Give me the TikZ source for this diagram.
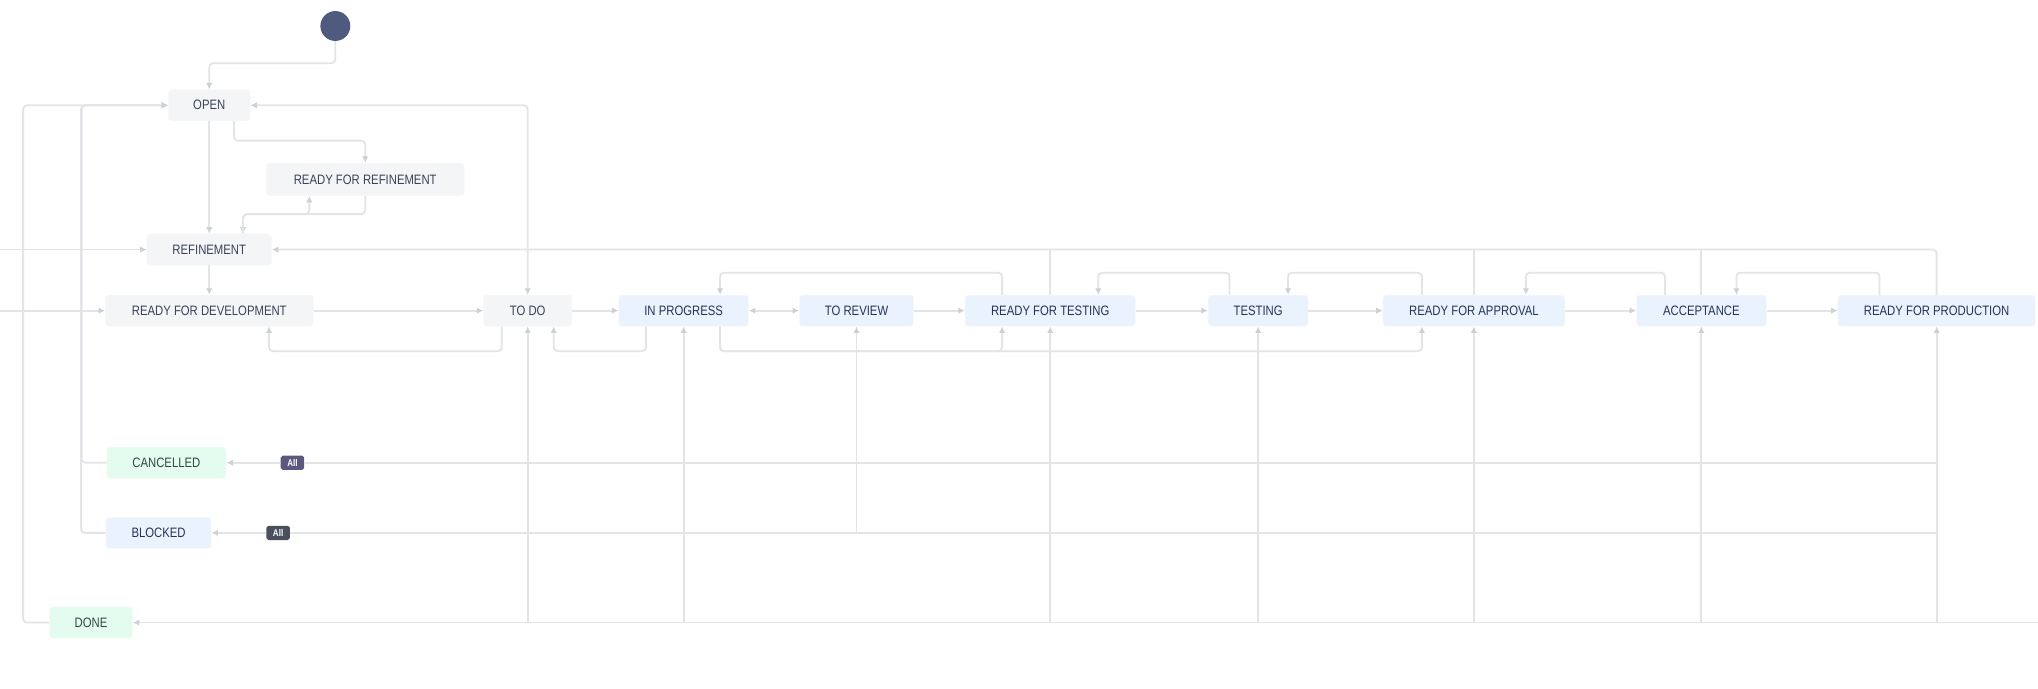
\documentclass[tikz,border=0pt]{standalone}
\usepackage{fontspec}
\setmainfont{Liberation Sans}[FakeStretch=0.83]
\usepackage{tikz}
\usetikzlibrary{arrows.meta,positioning,calc}
\definecolor{edgegrey}{HTML}{E3E4E8}
\definecolor{tipgrey}{HTML}{CDD0D6}
\definecolor{todofill}{HTML}{F4F5F7}
\definecolor{progfill}{HTML}{EAF2FE}
\definecolor{donefill}{HTML}{E3FCEF}
\definecolor{todotext}{HTML}{394257}
\definecolor{progtext}{HTML}{253456}
\definecolor{donetext}{HTML}{2F4842}
\definecolor{startblue}{HTML}{4E5B7E}
\definecolor{tagpurple}{HTML}{5B5880}
\definecolor{taggrey}{HTML}{4A4F5D}

\tikzset{
  status/.style={rounded corners=2.5pt, minimum height=24pt, inner sep=0pt,
    font=\fontsize{10.5}{12}\selectfont},
  todost/.style={status, fill=todofill, draw=todofill!80!black!10, text=todotext},
  progst/.style={status, fill=progfill, draw=progfill!90!black!10, text=progtext},
  donest/.style={status, fill=donefill, draw=donefill!90!black!10, text=donetext},
  alltag/.style={rounded corners=1.5pt, minimum width=18pt, minimum height=11pt, inner sep=0pt,
    text=white, font=\fontsize{7.5}{8}\bfseries},
  flow/.style={draw=edgegrey, line width=1.4pt, rounded corners=3pt}
}

\begin{document}
\begin{tikzpicture}[x=1pt, y=-1pt, >={Latex[length=5pt,width=5pt,color=tipgrey]}]
\fill[white] (0,0) rectangle (1568,530);
\useasboundingbox (0,0) rectangle (1568,530);

% statuses
\node[circle, fill=startblue, minimum size=23pt, inner sep=0pt] (start) at (258,20) {};
\node[todost, minimum width=63pt] (open) at (161,81) {OPEN};
\node[todost, minimum width=152pt, minimum height=25pt] (rfr) at (281,138) {READY FOR REFINEMENT};
\node[todost, minimum width=96pt] (refine) at (161,192) {REFINEMENT};
\node[todost, minimum width=160pt] (rfd) at (161,239) {READY FOR DEVELOPMENT};
\node[todost, minimum width=68pt] (todo) at (406,239) {TO DO};
\node[progst, minimum width=100pt] (inprog) at (526,239) {IN PROGRESS};
\node[progst, minimum width=88pt] (review) at (659,239) {TO REVIEW};
\node[progst, minimum width=131pt] (rft) at (808,239) {READY FOR TESTING};
\node[progst, minimum width=77pt] (testing) at (968,239) {TESTING};
\node[progst, minimum width=140pt] (rfa) at (1134,239) {READY FOR APPROVAL};
\node[progst, minimum width=100pt] (accept) at (1309,239) {ACCEPTANCE};
\node[progst, minimum width=152pt] (rfp) at (1490,239) {READY FOR PRODUCTION};
\node[donest, minimum width=92pt] (cancel) at (128,356) {CANCELLED};
\node[progst, minimum width=81pt] (blocked) at (122,410) {BLOCKED};
\node[donest, minimum width=64pt] (done) at (70,479) {DONE};
\node[alltag, fill=tagpurple] (allc) at (225,356) {All};
\node[alltag, fill=taggrey] (allb) at (214,410) {All};

% free ends at the picture's edges
\coordinate (inref) at (0,192);
\coordinate (inrfd) at (0,239);
\coordinate (indone) at (1568,479);

% top part
\draw[flow,->] (start.south) -- ++(0,17) -| (open.north);
\draw[flow,->] (open.south) -- (refine.north);
\draw[flow,->] ([xshift=19pt]open.south) -- ++(0,15) -| (rfr.north);
\draw[flow,->] (rfr.south) -- ++(0,14) -| ([xshift=26pt]refine.north);
\draw[flow,->] ([xshift=26pt]refine.north) -- ++(0,-15) -| ([xshift=-43pt]rfr.south);
\draw[flow,->] (refine.south) -- (rfd.north);
\draw[flow,<->] (open.east) -| (todo.north);
\draw[flow,->] (inref) -- (refine.west);
\draw[flow,->] (inrfd) -- (rfd.west);

% main row
\draw[flow,->] (rfd.east) -- (todo.west);
\draw[flow,->] (todo.east) -- (inprog.west);
\draw[flow,<->] (inprog.east) -- (review.west);
\draw[flow,->] (review.east) -- (rft.west);
\draw[flow,->] (rft.east) -- (testing.west);
\draw[flow,->] (testing.east) -- (rfa.west);
\draw[flow,->] (rfa.east) -- (accept.west);
\draw[flow,->] (accept.east) -- (rfp.west);

% steps back, below the row
\draw[flow,->] ([xshift=-20pt]todo.south) -- ++(0,19) -| ([xshift=46pt]rfd.south);
\draw[flow,->] ([xshift=-29pt]inprog.south) -- ++(0,19) -| ([xshift=20pt]todo.south);
\draw[flow,->] ([xshift=28pt]inprog.south) -- ++(0,19) -| ([xshift=-37pt]rft.south);
\draw[flow,->] ([xshift=28pt]inprog.south) -- ++(0,19) -| ([xshift=-40pt]rfa.south);

% steps back, above the row
\draw[flow,->] ([xshift=-37pt]rft.north) -- ++(0,-17) -| ([xshift=28pt]inprog.north);
\draw[flow,->] ([xshift=-22pt]testing.north) -- ++(0,-17) -| ([xshift=37pt]rft.north);
\draw[flow,->] ([xshift=-40pt]rfa.north) -- ++(0,-17) -| ([xshift=23pt]testing.north);
\draw[flow,->] ([xshift=-28pt]accept.north) -- ++(0,-17) -| ([xshift=40pt]rfa.north);
\draw[flow,->] ([xshift=-44pt]rfp.north) -- ++(0,-17) -| ([xshift=27pt]accept.north);
\draw[flow,->] (rfp.north) |- (refine.east);
\foreach \s in {rft,rfa,accept}
  \draw[flow] (\s.north) -- (\s.north |- refine.east);

% back to open
\draw[flow,->] (done.west) -- ++(-20,0) |- (open.west);
\draw[flow,->] (cancel.west) -- ++(-19,0) |- (open.west);
\draw[flow,->] (blocked.west) -- ++(-19,0) |- (open.west);

% global transitions
\draw[flow,->] (allc.west) -- (cancel.east);
\draw[flow,->] (allb.west) -- (blocked.east);
\draw[flow] (allc.east) -- (allc -| rfp);
\draw[flow] (allb.east) -- (allb -| rfp);
\draw[flow,->] (indone) -- (done.east);
\foreach \s in {todo,inprog,rft,testing,rfa,accept,rfp}
  \draw[flow,->] (\s.south |- done) -- (\s.south);
\draw[flow,->] (review.south |- blocked) -- (review.south);
\end{tikzpicture}
\end{document}
